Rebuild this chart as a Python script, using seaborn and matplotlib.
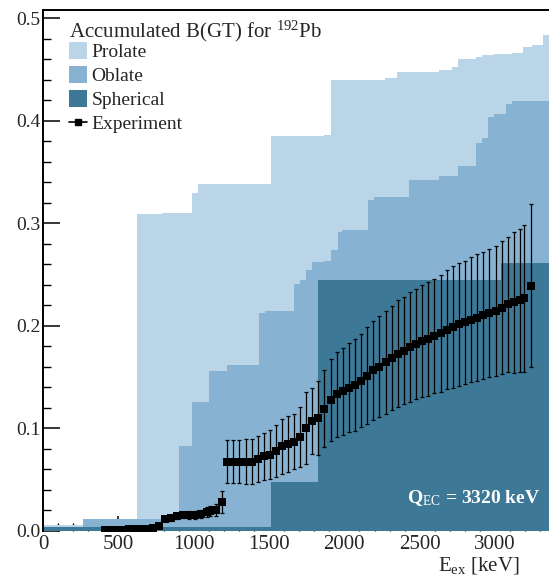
import numpy as np
import pandas as pd
import matplotlib
matplotlib.use("Agg")
import matplotlib.pyplot as plt
from matplotlib.patches import Patch
from matplotlib.lines import Line2D
from matplotlib.ticker import MultipleLocator
import seaborn as sns

# ---------------- data ----------------
XMAX = 3358
prolate_edges = [0, 263, 622, 788, 987, 1027, 1511, 1867, 1909, 2269, 2349, 2630,
                 2717, 2756, 2873, 2915, 2995, 3114, 3187, 3243, 3320]
prolate_vals = [0.005, 0.011, 0.309, 0.310, 0.3295, 0.3376, 0.385, 0.386, 0.440,
                0.4417, 0.447, 0.449, 0.452, 0.460, 0.4624, 0.4637, 0.465, 0.466,
                0.4715, 0.4739, 0.483]

oblate_edges = [0, 263, 902, 987, 1104, 1223, 1433, 1473, 1668, 1705, 1745, 1788,
                1865, 1908, 1960, 1986, 2159, 2196, 2429, 2630, 2756, 2873, 2915,
                2955, 2995, 3072, 3114]
oblate_vals = [0.003, 0.011, 0.0823, 0.125, 0.156, 0.1616, 0.212, 0.2137, 0.2407,
               0.244, 0.2543, 0.2618, 0.2634, 0.274, 0.2917, 0.2933, 0.322, 0.325,
               0.3424, 0.3454, 0.3554, 0.378, 0.383, 0.403, 0.4065, 0.416, 0.4195]

spherical_edges = [0, 1511, 1827, 3037]
spherical_vals = [0.003, 0.047, 0.244, 0.261]

exp_x = [410, 450, 490, 530, 570, 610, 650, 690, 730, 770, 810, 850, 890, 930, 970,
         1010, 1050, 1090, 1110, 1150, 1190,
         1223, 1263, 1303, 1345, 1385, 1424, 1464, 1506, 1546, 1586, 1628, 1666,
         1705, 1745, 1787, 1827, 1867, 1909, 1949, 1989, 2031, 2070, 2110, 2152,
         2192, 2232, 2274, 2314, 2353, 2393, 2435, 2475, 2517, 2557, 2597, 2639,
         2679, 2718, 2760, 2800, 2840, 2882, 2922, 2962, 3004, 3044, 3083, 3125,
         3165, 3194, 3236]
exp_y = [0.0005, 0.0005, 0.0005, 0.0005, 0.001, 0.001, 0.001, 0.001, 0.002, 0.004,
         0.011, 0.012, 0.014, 0.015, 0.015, 0.015, 0.016, 0.018, 0.019, 0.020, 0.028,
         0.0673, 0.0673, 0.0673, 0.0673, 0.0673, 0.0699, 0.0722, 0.0741, 0.0774,
         0.0823, 0.0846, 0.0868, 0.0911, 0.0998, 0.1067, 0.1099, 0.1187, 0.1275,
         0.1327, 0.1359, 0.1392, 0.1418, 0.1463, 0.1512, 0.1561, 0.1600, 0.1642,
         0.1681, 0.1724, 0.1756, 0.1788, 0.1821, 0.1847, 0.1870, 0.1896, 0.1925,
         0.1958, 0.1983, 0.2010, 0.2032, 0.2056, 0.2075, 0.2098, 0.2120, 0.2140,
         0.2173, 0.2205, 0.2227, 0.2244, 0.2266, 0.2390]
exp_err = [0.0005, 0.0005, 0.0005, 0.0005, 0.001, 0.001, 0.001, 0.001, 0.001, 0.002,
           0.002, 0.003, 0.003, 0.003, 0.004, 0.004, 0.004, 0.005, 0.005, 0.006, 0.0107,
           0.0211, 0.0211, 0.0211, 0.0220, 0.0223, 0.0224, 0.0233, 0.0241, 0.0252,
           0.0267, 0.0272, 0.0268, 0.0296, 0.0354, 0.0325, 0.0358, 0.0377, 0.0398,
           0.0413, 0.0423, 0.0434, 0.0447, 0.0452, 0.0475, 0.0483, 0.0491, 0.0504,
           0.0509, 0.0520, 0.0525, 0.0535, 0.0540, 0.0545, 0.0553, 0.0558, 0.0569,
           0.0580, 0.0593, 0.0600, 0.0602, 0.0610, 0.0621, 0.0621, 0.0623, 0.0634,
           0.0650, 0.0663, 0.0686, 0.0694, 0.0719, 0.0792]

labels = ["Prolate", "Oblate", "Spherical", "Experiment"]
title = "Accumulated B(GT) for $^{192}$Pb"
q_text = "Q$_{\\mathrm{EC}}$ = 3320 keV"
xlabel = "E$_{\\mathrm{ex}}$ [keV]"

c_pro = "#b9d5e7"
c_obl = "#87b2d1"
c_sph = "#3d7896"

# ---------------- style ----------------
sns.set_style("ticks")
plt.rcParams["font.family"] = ["Liberation Serif", "DejaVu Serif"]
plt.rcParams["mathtext.fontset"] = "custom"
plt.rcParams["mathtext.rm"] = "Liberation Serif"
plt.rcParams["mathtext.it"] = "Liberation Serif:italic"
plt.rcParams["mathtext.bf"] = "Liberation Serif:bold"

fig = plt.figure(figsize=(5.49, 5.80), dpi=100)
ax = fig.add_axes([43 / 549, 1 - 530.5 / 580, 1 - 43 / 549, (530.5 - 9.5) / 580])
ax.set_axisbelow(True)


def step_fill(edges, vals, color, z):
    df = pd.DataFrame({"x": edges, "w": vals})
    bins = list(edges) + [XMAX + 50]
    sns.histplot(data=df, x="x", weights="w", bins=bins, element="step",
                 fill=True, color=color, alpha=1, linewidth=0, ax=ax, zorder=z)


step_fill(prolate_edges, prolate_vals, c_pro, 1)
step_fill(oblate_edges, oblate_vals, c_obl, 1.1)
step_fill(spherical_edges, spherical_vals, c_sph, 1.2)

ax.errorbar(exp_x, exp_y, yerr=exp_err, fmt="none", ecolor="black",
            elinewidth=0.9, capsize=1.6, capthick=0.9, zorder=3)
sns.scatterplot(x=exp_x, y=exp_y, marker="s", s=26, color="black",
                edgecolor="black", linewidth=0, ax=ax, zorder=4)

ax.set_xlim(0, XMAX)
ax.set_ylim(0, 0.5083)
ax.set_xlabel("")
ax.set_ylabel("")

ax.xaxis.set_major_locator(MultipleLocator(500))
ax.xaxis.set_minor_locator(MultipleLocator(100))
ax.yaxis.set_major_locator(MultipleLocator(0.1))
ax.yaxis.set_minor_locator(MultipleLocator(0.02))
ax.tick_params(axis="both", which="both", direction="in", top=False, right=False,
               color="black")
ax.tick_params(axis="y", which="major", length=12, width=1.1, labelsize=14, pad=2)
ax.tick_params(axis="y", which="minor", length=6, width=1.0)
ax.tick_params(axis="x", which="major", length=11, width=1.1, labelsize=15, pad=3)
ax.tick_params(axis="x", which="minor", length=6, width=1.0)
ax.set_yticks([0.0, 0.1, 0.2, 0.3, 0.4, 0.5])
ax.set_yticklabels(["0.0", "0.1", "0.2", "0.3", "0.4", "0.5"])

for s in ["left", "top"]:
    ax.spines[s].set_linewidth(1.4)
    ax.spines[s].set_color("black")
ax.spines["right"].set_visible(False)
ax.spines["bottom"].set_visible(False)

# legend
handles = [Patch(facecolor=c_pro, edgecolor="none"),
           Patch(facecolor=c_obl, edgecolor="none"),
           Patch(facecolor=c_sph, edgecolor="none"),
           Line2D([], [], color="black", marker="s", markersize=5, linewidth=1.2)]
leg = ax.legend(handles, labels, title=title, loc="upper left",
                bbox_to_anchor=(0.029, 1.005), frameon=False, fontsize=14,
                title_fontsize=15, handlelength=0.9, handleheight=0.95,
                handletextpad=0.25, labelspacing=0.25, borderaxespad=0.2)
leg._legend_box.align = "left"
leg._legend_box.sep = -1

ax.text(0.982, 0.063, q_text, transform=ax.transAxes, ha="right", va="center",
        color="white", fontsize=14, fontweight="bold")
fig.text(520 / 549, 1 - 566 / 580, xlabel, ha="right", va="center", fontsize=15)

fig.savefig("out.png", dpi=100)
